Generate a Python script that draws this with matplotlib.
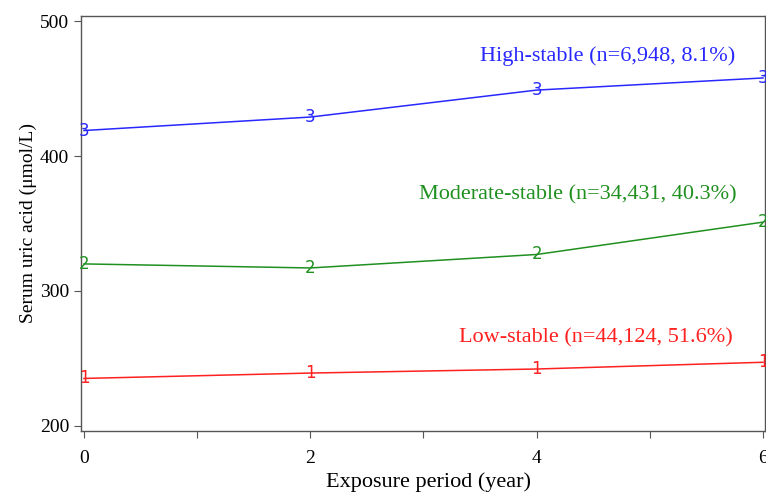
import matplotlib.pyplot as plt
import numpy as np

# --- data ---
years = [0, 2, 4, 6]
low_stable = [235, 239, 242, 247]
moderate_stable = [320, 317, 327, 351]
high_stable = [419, 429, 449, 458]

labels = ["Low-stable (n=44,124, 51.6%)",
          "Moderate-stable (n=34,431, 40.3%)",
          "High-stable (n=6,948, 8.1%)"]
label_pos = [(4.52, 265), (4.36, 371), (4.63, 474)]
colors = ["#ff2020", "#209020", "#2828ff"]
digits = ["1", "2", "3"]

plt.rcParams['font.family'] = ['Liberation Serif', 'DejaVu Serif']

fig = plt.figure(figsize=(7.66, 4.92), dpi=100)
ax = fig.add_axes([0.1057, 0.124, 0.893, 0.8435])

for series, col, dg, lab, (tx, ty) in zip(
        [low_stable, moderate_stable, high_stable], colors, digits, labels, label_pos):
    ax.plot(years, series, color=col, linewidth=1.1, clip_on=False)
    for x, y in zip(years, series):
        ax.text(x, y, dg, color=col, fontsize=12, family='DejaVu Sans',
                ha='center', va='center')
    ax.text(tx, ty, lab, color=col, fontsize=16, ha='center', va='center')

ax.set_xlim(-0.027, 6.018)
ax.set_ylim(196, 504)
ax.set_xticks(np.arange(0, 7, 1))
ax.set_xticklabels(["0", "", "2", "", "4", "", "6"])
ax.set_yticks([200, 300, 400, 500])
ax.tick_params(labelsize=14, direction='out', length=5, color='#555555')
ax.tick_params(axis='x', pad=9)
for s in ax.spines.values():
    s.set_color('#555555')
    s.set_linewidth(1.0)

fig.text(429 / 766, 1 - 482 / 492, "Exposure period (year)", fontsize=16,
         ha='center', va='center')
ax.set_ylabel("Serum uric acid (\u03bcmol/L)", fontsize=14, labelpad=2)

fig.savefig("out.png", dpi=100)
